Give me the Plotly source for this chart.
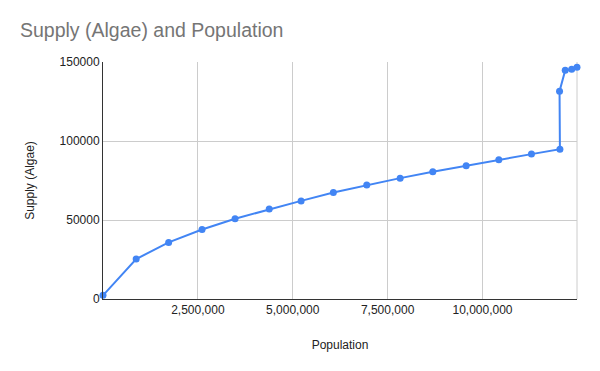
import plotly.graph_objects as go

population = [0, 874000, 1730000, 2610000, 3480000, 4380000, 5220000, 6070000,
              6950000, 7830000, 8690000, 9570000, 10430000, 11290000, 12040000,
              12030000, 12180000, 12350000, 12490000]
supply = [2300, 25300, 35800, 44000, 50800, 56900, 62100, 67400, 72100, 76500,
          80500, 84400, 88100, 91700, 94800, 131500, 144800, 145400, 146600]
x_ticks = [2500000, 5000000, 7500000, 10000000]
x_tick_labels = ["2,500,000", "5,000,000", "7,500,000", "10,000,000"]
y_ticks = [0, 50000, 100000, 150000]

fig = go.Figure()
fig.add_trace(go.Scatter(
    x=population, y=supply, mode="lines+markers",
    line=dict(color="#4285F4", width=2),
    marker=dict(color="#4285F4", size=7),
    cliponaxis=False,
    hoverinfo="skip", showlegend=False,
))

# right-edge gridline
fig.add_shape(type="line", xref="paper", yref="paper", x0=1, x1=1, y0=0, y1=1,
              line=dict(color="#cccccc", width=1), layer="below")

font_family = "Liberation Sans, Arial, sans-serif"
fig.update_layout(
    width=600, height=371,
    margin=dict(l=94.5, r=30.5, t=54, b=79.7),
    paper_bgcolor="white", plot_bgcolor="white",
    font=dict(family=font_family, size=12, color="#222222"),
    title=dict(text="Supply (Algae) and Population", x=0.02, xanchor="left",
               y=0.941, yanchor="middle",
               font=dict(family=font_family, size=19.5, color="#757575")),
    xaxis=dict(
        range=[0, max(population)], tickvals=x_ticks, ticktext=x_tick_labels,
        showgrid=True, gridcolor="#cccccc", gridwidth=1,
        showline=True, linecolor="#333333", linewidth=1,
        zeroline=False, ticks="", tickfont=dict(size=12, color="#222222"),
        title=dict(text="Population", standoff=24, font=dict(size=12, color="#222222")),
    ),
    yaxis=dict(
        range=[0, 150000], tickvals=y_ticks, tickformat="d",
        showgrid=True, gridcolor="#cccccc", gridwidth=1,
        showline=True, linecolor="#333333", linewidth=1,
        zeroline=False, ticks="", ticklen=0, tickfont=dict(size=12, color="#222222"),
        title=dict(text="Supply (Algae)", standoff=22, font=dict(size=12, color="#222222")),
    ),
)
fig.write_html("out.html")
